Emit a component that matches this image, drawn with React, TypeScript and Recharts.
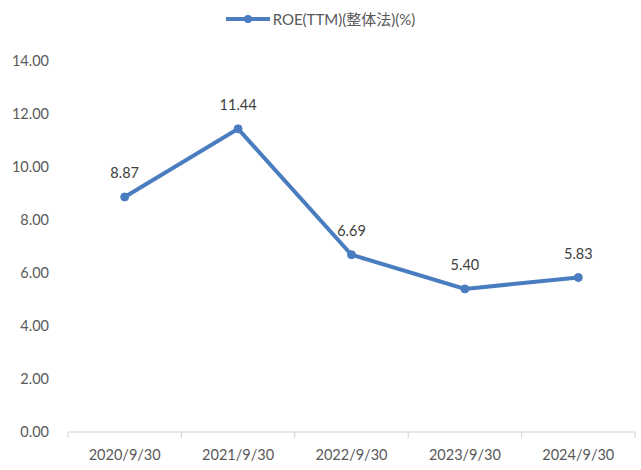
import { LineChart, Line, XAxis, YAxis, Legend, LabelList } from "recharts";

const categories = ["2020/9/30", "2021/9/30", "2022/9/30", "2023/9/30", "2024/9/30"];
const roeValues = [8.87, 11.44, 6.69, 5.4, 5.83];
const yTicks = [0, 2, 4, 6, 8, 10, 12, 14];

const SERIES_NAME = "ROE(TTM)(整体法)(%)";
const LINE_COLOR = "#4a7cc0";
const TEXT_COLOR = "#595959";
const FONT = "Lato, 'Noto Sans CJK SC', sans-serif";

const data = categories.map((c, i) => ({ date: c, roe: roeValues[i] }));

const PLOT_LEFT = 68;
const PLOT_RIGHT = 635;
const BAND = (PLOT_RIGHT - PLOT_LEFT) / categories.length;

// labels at band centers, tick marks at band edges like Excel
function XTick(props: any) {
  const { x, y, payload, index } = props;
  const left = x - BAND / 2;
  return (
    <g>
      <line x1={left} y1={y - 8} x2={left} y2={y - 2} stroke="#d0d0d0" />
      {index === categories.length - 1 && (
        <line x1={left + BAND} y1={y - 8} x2={left + BAND} y2={y - 2} stroke="#d0d0d0" />
      )}
      <text x={x} y={y + 20} textAnchor="middle" fill={TEXT_COLOR} fontSize={14.5} fontFamily={FONT}>
        {payload.value}
      </text>
    </g>
  );
}

function LegendContent() {
  return (
    <div style={{ display: "flex", justifyContent: "center", alignItems: "center", fontFamily: FONT, fontSize: 15, color: TEXT_COLOR }}>
      <svg width={44} height={12} style={{ marginRight: 3 }}>
        <line x1={0} y1={6} x2={44} y2={6} stroke={LINE_COLOR} strokeWidth={4} />
        <circle cx={22} cy={6} r={4} fill={LINE_COLOR} />
      </svg>
      <span>{SERIES_NAME}</span>
    </div>
  );
}

export default function App() {
  return (
    <div style={{ position: "absolute", left: 0, top: 0, background: "#fff" }}>
      <LineChart width={641} height={470} data={data} margin={{ top: 40, right: 6, left: 0, bottom: 0 }}>
        <Legend verticalAlign="top" content={LegendContent} wrapperStyle={{ top: 8, left: 0, width: 641 }} />
        <XAxis
          dataKey="date"
          height={38}
          stroke="#d0d0d0"
          tickLine={false}
          tick={XTick}
          interval={0}
          padding={{ left: BAND / 2, right: BAND / 2 }}
        />
        <YAxis
          width={68}
          domain={[0, 14]}
          ticks={yTicks}
          axisLine={false}
          tickLine={false}
          tickMargin={13}
          tickFormatter={(v: number) => v.toFixed(2)}
          tick={{ fill: TEXT_COLOR, fontSize: 14.5, fontFamily: FONT }}
        />
        <Line
          dataKey="roe"
          name={SERIES_NAME}
          stroke={LINE_COLOR}
          strokeWidth={4}
          dot={{ r: 4, fill: LINE_COLOR, stroke: LINE_COLOR, strokeWidth: 1 }}
          isAnimationActive={false}
        >
          <LabelList
            dataKey="roe"
            position="top"
            offset={19}
            formatter={(v: any) => Number(v).toFixed(2)}
            style={{ fill: "#404040", fontSize: 14.5, fontFamily: FONT }}
          />
        </Line>
      </LineChart>
    </div>
  );
}
